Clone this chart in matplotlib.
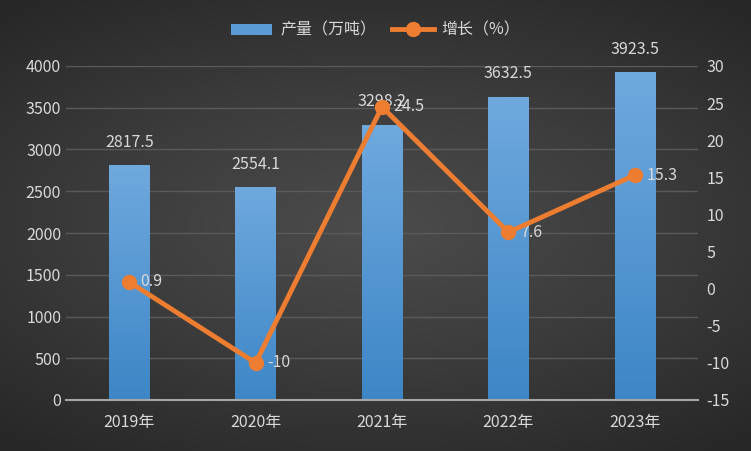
import matplotlib
matplotlib.use("Agg")
import matplotlib.pyplot as plt
import numpy as np
from matplotlib.patches import Patch
from matplotlib.lines import Line2D

plt.rcParams['font.family'] = ['Noto Sans CJK SC', 'DejaVu Sans']
plt.rcParams['axes.unicode_minus'] = False

years = ["2019年", "2020年", "2021年", "2022年", "2023年"]
output = [2817.5, 2554.1, 3298.2, 3632.5, 3923.5]
growth = [0.9, -10, 24.5, 7.6, 15.3]
growth_labels = ["0.9", "-10", "24.5", "7.6", "15.3"]

text_color = "#d9d9d9"
line_color = "#ed7d31"

fig = plt.figure(figsize=(7.51, 4.51), dpi=100)

# radial-ish dark background
bg = fig.add_axes([0, 0, 1, 1])
yy, xx = np.mgrid[-1:1:200j, -1:1:300j]
r = np.sqrt((xx * 0.9) ** 2 + (yy * 1.1) ** 2)
bg.imshow(r, cmap=matplotlib.colors.LinearSegmentedColormap.from_list(
    "bg", ["#4c4c4c", "#3b3b3b", "#272727"]), aspect="auto",
    extent=[0, 1, 0, 1], vmin=0, vmax=1.4)
bg.set_axis_off()

ax = fig.add_axes([66 / 751, 51 / 451, 632 / 751, 334 / 451])
ax.patch.set_alpha(0)
x = np.arange(len(years))
bars = ax.bar(x, output, width=0.32, color="none", zorder=2)

# gradient fill for bars
grad = np.linspace(0, 1, 256).reshape(-1, 1)
cmap_bar = matplotlib.colors.LinearSegmentedColormap.from_list("bar", ["#3d86c6", "#6fa9de"])
for b in bars:
    im = ax.imshow(grad, cmap=cmap_bar, aspect="auto", origin="lower",
                   extent=[b.get_x(), b.get_x() + b.get_width(), 0, b.get_height()], zorder=2)
    im.set_clip_path(b)
    ax.text(b.get_x() + b.get_width() / 2, b.get_height() + 170, f"{b.get_height():.1f}",
            ha="center", va="bottom", color=text_color, fontsize=11.5)

ax.set_xlim(-0.5, 4.5)
ax.set_ylim(0, 4000)
ax.set_yticks(np.arange(0, 4001, 500))
ax.set_xticks(x)
ax.set_xticklabels(years)
ax.grid(axis="y", color="#5a5a5a", linewidth=1, zorder=0)
ax.set_axisbelow(True)
for s in ["top", "right", "left"]:
    ax.spines[s].set_visible(False)
ax.spines["bottom"].set_color("#a6a6a6")
ax.spines["bottom"].set_linewidth(1.5)
ax.tick_params(axis="both", length=0, colors=text_color, labelsize=11.5)
ax.tick_params(axis="x", pad=10)

ax2 = ax.twinx()
ax2.set_ylim(-15, 30)
ax2.set_yticks(np.arange(-15, 31, 5))
for s in ax2.spines.values():
    s.set_visible(False)
ax2.tick_params(axis="y", length=0, colors=text_color, labelsize=11.5, pad=6)
ax2.plot(x, growth, color=line_color, linewidth=3.5, marker="o", markersize=10, zorder=5)
for xi, g, lab in zip(x, growth, growth_labels):
    ax2.text(xi + 0.09, g, lab, ha="left", va="center", color=text_color, fontsize=11.5)

# legend
handles = [Patch(facecolor="#5b9bd5", edgecolor="none", label="产量（万吨）"),
           Line2D([0], [0], color=line_color, linewidth=3.5, marker="o", markersize=10, label="增长（%）")]
fig.legend(handles=handles, loc="center", bbox_to_anchor=(0.5, 0.933), ncol=2, frameon=False,
           labelcolor=text_color, fontsize=11.5, handlelength=2.6, columnspacing=1.0, handletextpad=0.5)

fig.savefig("out.png", dpi=100)
